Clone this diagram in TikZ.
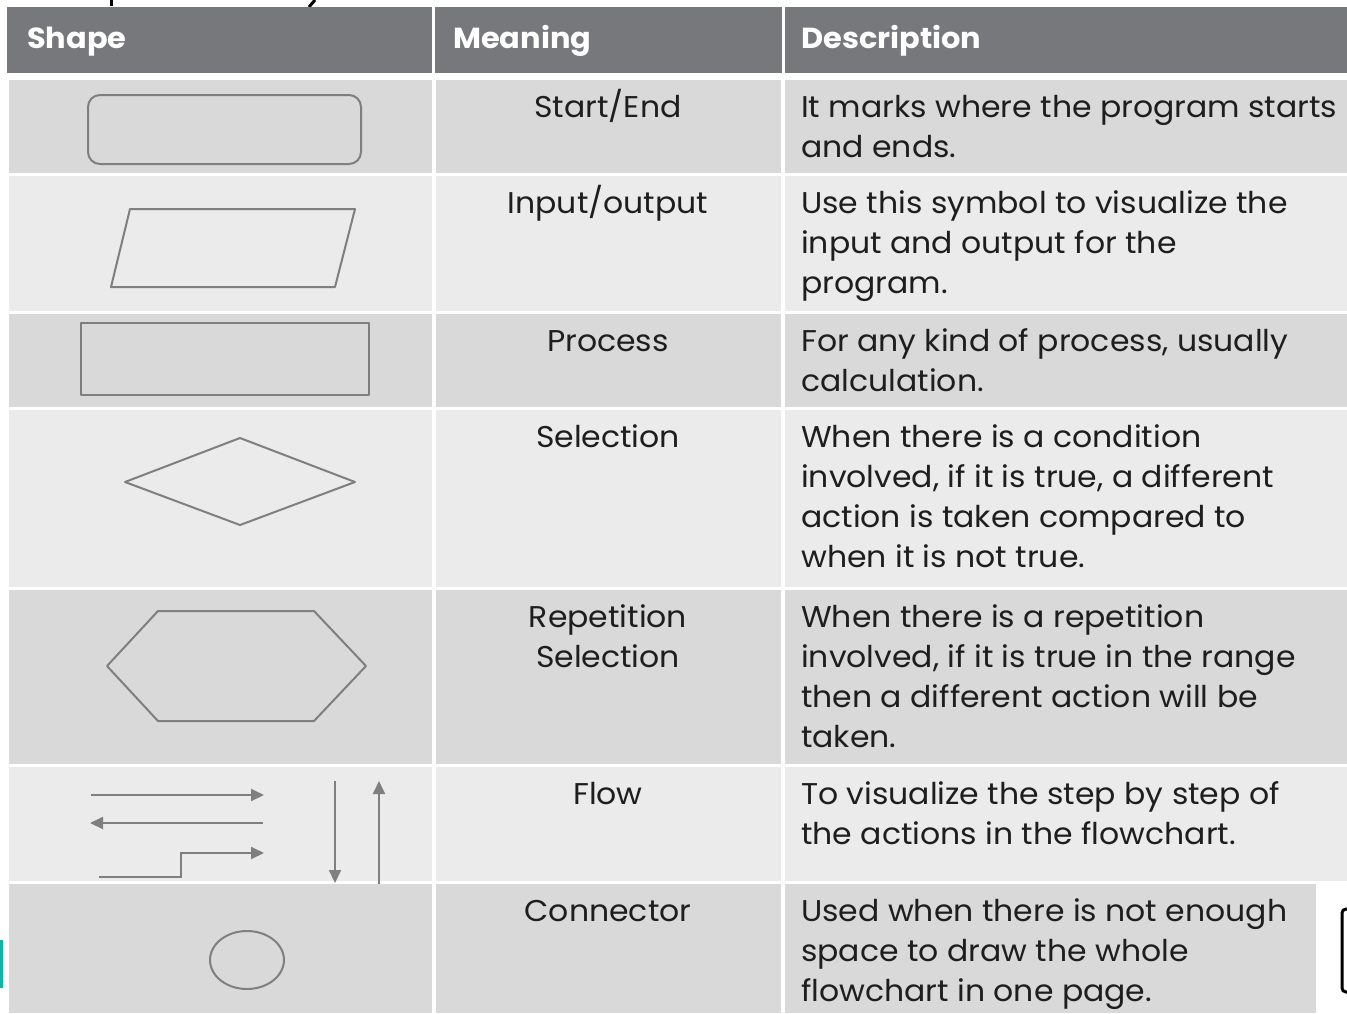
\documentclass[tikz,border=0pt]{standalone}
\usepackage{fontspec}
\setmainfont{Poppins}[FakeStretch=1.05]
\usetikzlibrary{arrows.meta}

\definecolor{headgray}{HTML}{77787C}
\definecolor{rowdark}{HTML}{D9D9D9}
\definecolor{rowlight}{HTML}{EBEBEB}
\definecolor{shapegray}{HTML}{7F7F7F}
\definecolor{inkdark}{HTML}{1E1E1E}
\definecolor{tealbar}{HTML}{14B4A8}

% one text line per node, placed on its baseline
\newcommand\desclines[3]{%
  \foreach \lineitem [count=\k from 0] in {#3}
    \node[bodytext, name=#1-\k] at (801,#2+40*\k) {\lineitem};}

\begin{document}
\begin{tikzpicture}[x=1pt,y=-1pt,
  symbol/.style={draw=shapegray, line width=2pt, line join=round},
  flowline/.style={draw=shapegray, line width=2pt, -{Triangle[length=13pt,width=12pt]}},
  headtext/.style={font=\fontsize{29}{36}\selectfont\bfseries, text=white, anchor=base west, inner sep=0},
  bodytext/.style={font=\fontsize{30}{40}\selectfont, text=inkdark, anchor=base west, inner sep=0},
  meantext/.style={font=\fontsize{30}{40}\selectfont, text=inkdark, anchor=base, inner sep=0}]

\clip (0,0) rectangle (1347,1013);
\fill[white] (0,0) rectangle (1347,1013);

% clipped title strokes along the top edge
\draw[black, line width=3pt] (111,0) -- (111,6);
\draw[black, line width=3pt] (315,0) -- (309,7);

% header band
\fill[headgray] (7,7) rectangle (432,73);
\fill[headgray] (435,7) rectangle (782,73);
\fill[headgray] (785,7) rectangle (1347,73);
\node[headtext] (hshape) at (27,48) {Shape};
\node[headtext] (hmeaning) at (453,48) {Meaning};
\node[headtext] (hdesc) at (801,48) {Description};

% body rows: cells in three columns
\foreach \top/\bot/\col in {80/173/rowdark, 176/311/rowlight, 314/407/rowdark,
    410/587/rowlight, 590/764/rowdark, 767/881/rowlight} {
  \fill[\col] (9,\top) rectangle (432,\bot);
  \fill[\col] (436,\top) rectangle (781,\bot);
  \fill[\col] (785,\top) rectangle (1347,\bot);
}
\fill[rowdark] (9,884) rectangle (432,1013);
\fill[rowdark] (436,884) rectangle (781,1013);
\fill[rowdark] (785,884) rectangle (1316,1013);

% side marks at the page edges
\fill[tealbar] (0,940) rectangle (2.5,988);
\draw[black, line width=3pt, rounded corners=4pt] (1342,909) rectangle (1356,992);

% shape symbols
\draw[symbol, rounded corners=12pt] (88,95) rectangle (361,164);
\draw[symbol] (130,209) -- (355,209) -- (335,287) -- (111,287) -- cycle;
\draw[symbol] (81,323) rectangle (369,395);
\draw[symbol] (125,482) -- (240,438) -- (355,482) -- (240,525) -- cycle;
\draw[symbol] (107,666) -- (158,611) -- (314,611) -- (366,666) -- (314,721) -- (158,721) -- cycle;
\draw[symbol] (247,960) ellipse [x radius=37, y radius=29];

% flow arrows
\coordinate (fa1) at (91,795);  \coordinate (fb1) at (264,795);
\coordinate (fa2) at (263,823); \coordinate (fb2) at (90,823);
\coordinate (fa3) at (99,877);  \coordinate (fk3) at (181,853); \coordinate (fb3) at (264,853);
\coordinate (fa4) at (335,781); \coordinate (fb4) at (335,883);
\coordinate (fa5) at (379,884); \coordinate (fb5) at (379,781);
\draw[flowline] (fa1) -- (fb1);
\draw[flowline] (fa2) -- (fb2);
\draw[flowline] (fa3) -| (fk3) -- (fb3);
\draw[flowline] (fa4) -- (fb4);
\draw[flowline] (fa5) -- (fb5);

% meaning column
\node[meantext] (m1) at (608,117) {Start/End};
\node[meantext] (m2) at (608,213) {Input/output};
\node[meantext] (m3) at (608,351) {Process};
\node[meantext] (m4) at (608,447) {Selection};
\node[meantext] (m5a) at (608,627) {Repetition};
\node[meantext] (m5b) at (608,667) {Selection};
\node[meantext] (m6) at (608,804) {Flow};
\node[meantext] (m7) at (608,921) {Connector};

% description column
\desclines{d1}{117}{It marks where the program starts, and ends.}
\desclines{d2}{213}{Use this symbol to visualize the, input and output for the, program.}
\desclines{d3}{351}{{For any kind of process, usually}, calculation.}
\desclines{d4}{447}{When there is a condition, {involved, if it is true, a different}, action is taken compared to, when it is not true.}
\desclines{d5}{627}{When there is a repetition, {involved, if it is true in the range}, then a different action will be, taken.}
\desclines{d6}{804}{To visualize the step by step of, the actions in the flowchart.}
\desclines{d7}{921}{Used when there is not enough, space to draw the whole, flowchart in one page.}
\end{tikzpicture}
\end{document}
